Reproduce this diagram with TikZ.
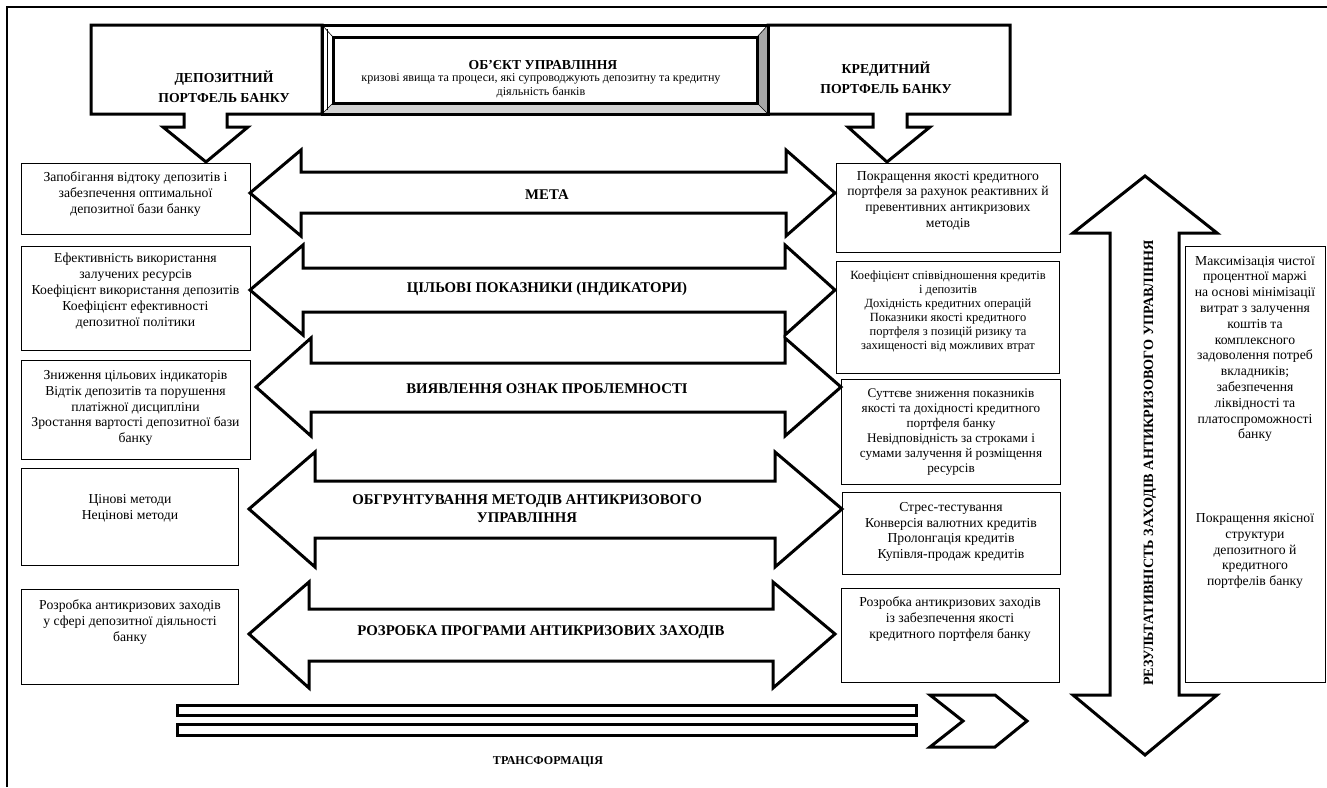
\documentclass[tikz,border=0pt]{standalone}
\usepackage{fontspec}
\setmainfont{Liberation Serif}
\begin{document}
\begin{tikzpicture}[x=1pt,y=-1pt,
  blk/.style={draw=black, line width=3pt, line join=miter, fill=white},
  tbox/.style={draw=black, line width=1pt},
  txt/.style={align=center, inner sep=0pt, font=\fontsize{13.7}{15.8}\selectfont},
  smalltxt/.style={align=center, inner sep=0pt, font=\fontsize{12.5}{14}\selectfont},
  subtxt/.style={align=center, inner sep=0pt, font=\fontsize{12.1}{14}\selectfont},
  midtxt/.style={align=center, inner sep=0pt, font=\fontsize{13.2}{15}\selectfont},
  atitle/.style={align=center, inner sep=0pt, font=\bfseries\fontsize{14.8}{18}\selectfont},
  head/.style={align=center, inner sep=0pt, font=\bfseries\fontsize{13.7}{20}\selectfont},
  vhead/.style={align=center, inner sep=0pt, font=\bfseries\fontsize{14.2}{17}\selectfont}]
\useasboundingbox (0,0) rectangle (1327,787);
\fill[white] (0,0) rectangle (1327,787);
% outer frame
\draw[line width=2pt] (7,787) -- (7,7) -- (1327,7);
% top callouts
\draw[blk] (91,25) -- (322,25) -- (322,114) -- (227,114) -- (227,127) -- (248,127) -- (206,162) -- (163,127) -- (184,127) -- (184,114) -- (91,114) -- cycle;
\draw[blk] (768,25) -- (1010,25) -- (1010,114) -- (907,114) -- (907,127) -- (930,127) -- (887,162) -- (848,127) -- (873,127) -- (873,114) -- (768,114) -- cycle;
% bevel box
\fill[gray!35] (322,114) -- (333,103) -- (757,103) -- (768,114) -- cycle;
\fill[gray!70] (768,25) -- (757,37) -- (757,103) -- (768,114) -- cycle;
\draw[line width=0.6pt] (322,25) -- (333,37) (322,114) -- (333,103) (768,25) -- (757,37) (768,114) -- (757,103);
\draw[line width=0.6pt] (327,29) -- (327,110);
\draw[line width=3pt] (333,37) rectangle (757,103);
\draw[line width=3pt] (322,25) rectangle (768,114);
\node[head] (dep) at (224,86.5) {ДЕПОЗИТНИЙ\\ПОРТФЕЛЬ БАНКУ};
\node[head] (cred) at (886,77.5) {КРЕДИТНИЙ\\ПОРТФЕЛЬ БАНКУ};
\node[head] (obj) at (543,65) {ОБ’ЄКТ УПРАВЛІННЯ};
\node[subtxt] (objsub) at (541,86) {кризові явища та процеси, які супроводжують депозитну та кредитну\\діяльність банків};
% left boxes
\draw[tbox] (21,163) rectangle (250,234);
\draw[tbox] (21,246) rectangle (250,350);
\draw[tbox] (21,360) rectangle (250,459);
\draw[tbox] (21,468) rectangle (238,565);
\draw[tbox] (21,589) rectangle (238,684);
\node[txt] (l1) at (135.5,194) {Запобігання відтоку депозитів і\\забезпечення оптимальної\\депозитної бази банку};
\node[txt] (l2) at (135.5,291) {Ефективність використання\\залучених ресурсів\\Коефіцієнт використання депозитів\\Коефіцієнт ефективності\\депозитної політики};
\node[txt] (l3) at (135.5,408) {Зниження цільових індикаторів\\Відтік депозитів та порушення\\платіжної дисципліни\\Зростання вартості депозитної бази\\банку};
\node[txt] (l4) at (130,508) {Цінові методи\\Нецінові методи};
\node[txt] (l5) at (130,622) {Розробка антикризових заходів\\у сфері депозитної діяльності\\банку};
% right boxes
\draw[tbox] (836,163) rectangle (1060,252);
\draw[tbox] (836,261) rectangle (1059,373);
\draw[tbox] (841,379) rectangle (1060,484);
\draw[tbox] (842,492) rectangle (1060,574);
\draw[tbox] (841,588) rectangle (1059,682);
\node[txt] (r1) at (948,200.5) {Покращення якості кредитного\\портфеля за рахунок реактивних й\\превентивних антикризових\\методів};
\node[smalltxt] (r2) at (948,311) {Коефіцієнт співвідношення кредитів\\і депозитів\\Дохідність кредитних операцій\\Показники якості кредитного\\портфеля з позицій ризику та\\захищеності від можливих втрат};
\node[midtxt] (r3) at (951,432) {Суттєве зниження показників\\якості та дохідності кредитного\\портфеля банку\\Невідповідність за строками і\\сумами залучення й розміщення\\ресурсів};
\node[txt] (r4) at (951,532) {Стрес-тестування\\Конверсія валютних кредитів\\Пролонгація кредитів\\Купівля-продаж кредитів};
\node[txt] (r5) at (950,619) {Розробка антикризових заходів\\із забезпечення якості\\кредитного портфеля банку};
% double arrows
\draw[blk] (250,193) -- (301,150) -- (301,172) -- (786,172) -- (786,150) -- (835,193) -- (786,236) -- (786,213) -- (301,213) -- (301,236) -- cycle;
\draw[blk] (250,290) -- (303,245) -- (303,268) -- (785,268) -- (785,245) -- (835,290) -- (785,335) -- (785,312) -- (303,312) -- (303,335) -- cycle;
\draw[blk] (256,387) -- (311,338) -- (311,363) -- (785,363) -- (785,338) -- (841,387) -- (785,436) -- (785,412) -- (311,412) -- (311,436) -- cycle;
\draw[blk] (249,509) -- (315,452) -- (315,481) -- (775,481) -- (775,452) -- (842,509) -- (775,567) -- (775,538) -- (315,538) -- (315,567) -- cycle;
\draw[blk] (249,634) -- (309,582) -- (309,609) -- (773,609) -- (773,582) -- (835,634) -- (773,688) -- (773,661) -- (309,661) -- (309,688) -- cycle;
\node[atitle] (a1) at (547,195) {МЕТА};
\node[atitle] (a2) at (547,289) {ЦІЛЬОВІ ПОКАЗНИКИ (ІНДИКАТОРИ)};
\node[atitle] (a3) at (547,389) {ВИЯВЛЕННЯ ОЗНАК ПРОБЛЕМНОСТІ};
\node[atitle] (a4) at (527,509) {ОБГРУНТУВАННЯ МЕТОДІВ АНТИКРИЗОВОГО\\УПРАВЛІННЯ};
\node[atitle] (a5) at (541,632) {РОЗРОБКА ПРОГРАМИ АНТИКРИЗОВИХ ЗАХОДІВ};
% vertical arrow
\draw[blk] (1145,176) -- (1217,233) -- (1179,233) -- (1179,695) -- (1217,695) -- (1145,755) -- (1073,695) -- (1110,695) -- (1110,233) -- (1073,233) -- cycle;
\node[vhead, rotate=90] (vres) at (1150,463) {РЕЗУЛЬТАТИВНІСТЬ ЗАХОДІВ АНТИКРИЗОВОГО УПРАВЛІННЯ};
% right column
\draw[tbox] (1185,246) rectangle (1325,682);
\node[txt] (c1) at (1255,349) {Максимізація чистої\\процентної маржі\\на основі мінімізації\\витрат з залучення\\коштів та\\комплексного\\задоволення потреб\\вкладників;\\забезпечення\\ліквідності та\\платоспроможності\\банку};
\node[txt] (c2) at (1255,551) {Покращення якісної\\структури\\депозитного й\\кредитного\\портфелів банку};
% transformation
\draw[blk] (177.5,705.5) rectangle (916.5,715.5);
\draw[blk] (177.5,724.5) rectangle (916.5,735.5);
\draw[blk] (930,695) -- (995,695) -- (1027,721) -- (995,747) -- (930,747) -- (963,721) -- cycle;
\node[align=center, inner sep=0pt, font=\bfseries\fontsize{12}{14}\selectfont] (tr) at (548,762) {ТРАНСФОРМАЦІЯ};
\end{tikzpicture}
\end{document}
